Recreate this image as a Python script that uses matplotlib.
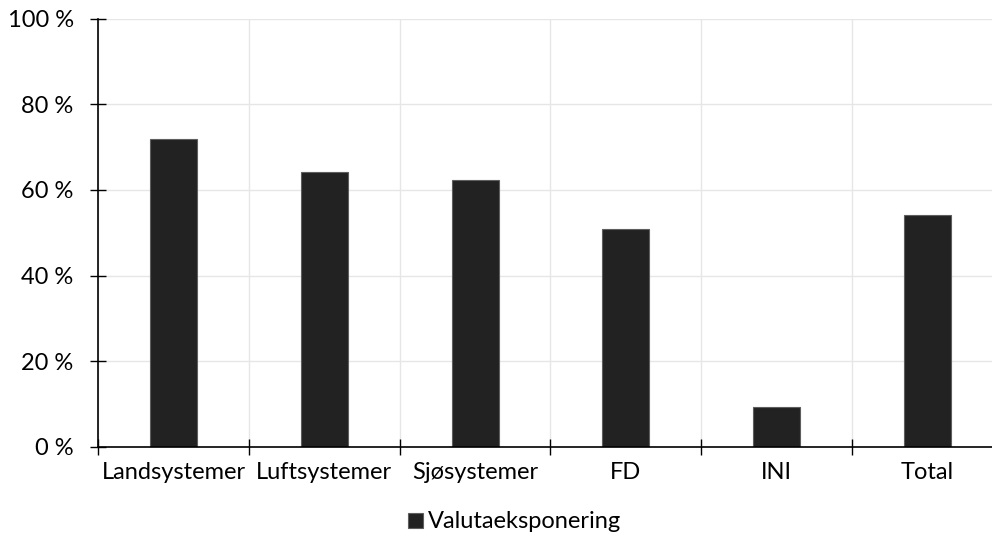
import matplotlib
matplotlib.use("Agg")
import matplotlib.pyplot as plt
from matplotlib.ticker import FixedLocator, FuncFormatter

plt.rcParams['font.family'] = ['Lato', 'DejaVu Sans']

categories = ["Landsystemer", "Luftsystemer", "Sjøsystemer", "FD", "INI", "Total"]
exposure = [71.9, 64.1, 62.3, 50.9, 9.3, 54.2]
series_name = "Valutaeksponering"
y_ticks = [0, 20, 40, 60, 80, 100]

FS = 17

fig = plt.figure(figsize=(9.92, 5.35), dpi=100)
ax = fig.add_axes([0.0991, 0.1654, 0.9116, 0.7991])

x = list(range(len(categories)))
ax.bar(x, exposure, width=0.312, color="#222222", edgecolor="#5e5e5e",
       linewidth=0.8, label=series_name, zorder=3)

ax.set_xlim(-0.5, len(categories) - 0.5)
ax.set_ylim(0, 100)

# category boundaries carry ticks and vertical grid lines
bounds = [i - 0.5 for i in range(len(categories) + 1)]
ax.xaxis.set_major_locator(FixedLocator(bounds))
ax.xaxis.set_major_formatter(FuncFormatter(lambda v, p: ""))
ax.xaxis.set_minor_locator(FixedLocator(x))
ax.set_xticklabels(categories, minor=True)
ax.tick_params(axis="x", which="major", direction="inout", length=11.5,
               width=1.0, color="black")
ax.tick_params(axis="x", which="minor", length=0, pad=11, labelsize=FS)

ax.set_yticks(y_ticks)
ax.yaxis.set_major_formatter(FuncFormatter(lambda v, p: f"{int(v)} %"))
ax.tick_params(axis="y", direction="inout", length=11.5, width=1.0,
               color="black", labelsize=FS, pad=12)

ax.grid(True, which="major", color="#e6e6e6", linewidth=1.0, zorder=0)
for side in ("top", "right"):
    ax.spines[side].set_visible(False)
for side in ("left", "bottom"):
    ax.spines[side].set_linewidth(1.2)
    ax.spines[side].set_color("black")
    ax.spines[side].set_zorder(4)

fig.legend(loc="center", bbox_to_anchor=(515 / 992, 1 - 522 / 535),
           frameon=False, fontsize=FS, handlelength=0.6, handleheight=0.6,
           handletextpad=0.25)

fig.savefig("out.png", dpi=100)
